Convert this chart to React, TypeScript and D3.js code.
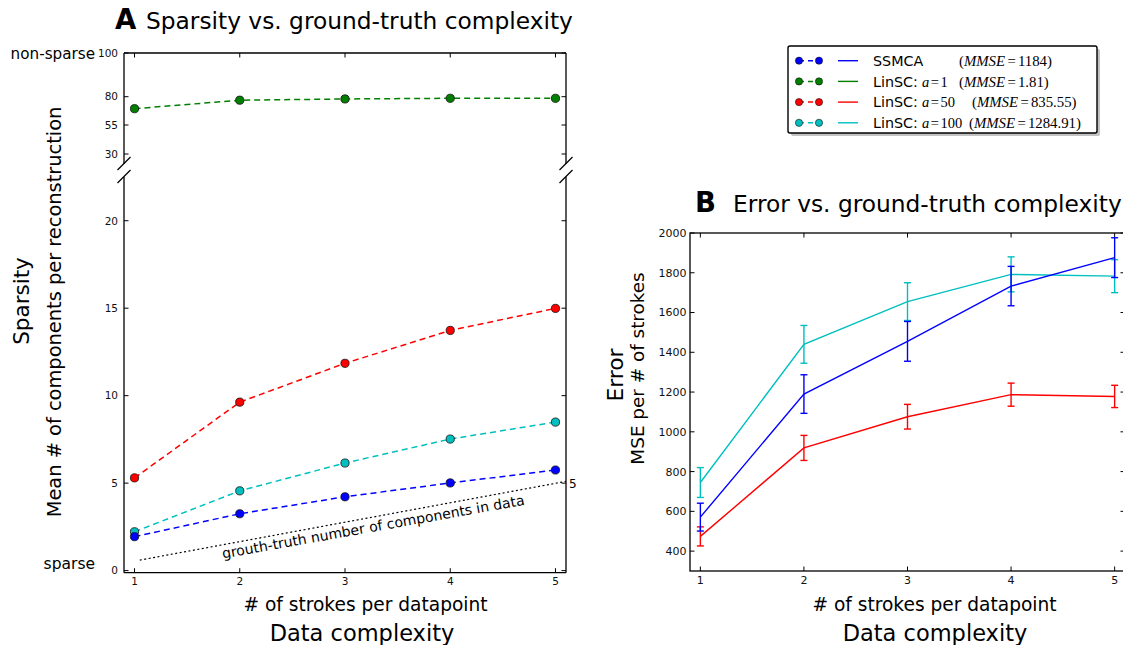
import React from "react";
import * as d3 from "d3";

const FONT = "DejaVu Sans";
const MATH = "Liberation Serif";

const strokes = [1, 2, 3, 4, 5];

// A: mean # of components per reconstruction
const sparseSSMCA = [1.94, 3.25, 4.22, 5.01, 5.75];
const sparseLinSC1 = [69.4, 76.9, 78.0, 78.6, 78.6];
const sparseLinSC50 = [5.3, 9.63, 11.85, 13.73, 14.99];
const sparseLinSC100 = [2.22, 4.56, 6.15, 7.52, 8.49];
const truthX = [1.05, 5.1];
const truthY = [0.6, 5.1];
const topTicks = [30, 55, 80, 100];
const lowTicks = [0, 5, 10, 15, 20];

// B: MSE per # of strokes (mean and error)
const mseSSMCA = [571, 1190, 1455, 1733, 1876];
const errSSMCA = [70, 97, 100, 99, 100];
const mseLinSC50 = [474, 919, 1076, 1187, 1178];
const errLinSC50 = [48, 63, 62, 58, 56];
const mseLinSC100 = [745, 1440, 1655, 1792, 1783];
const errLinSC100 = [75, 95, 95, 88, 83];
const mseTicks = [400, 600, 800, 1000, 1200, 1400, 1600, 1800, 2000];

// legend
const legendNames = ["SSMCA", "LinSC:", "LinSC:", "LinSC:"];
const legendA = ["", "1", "50", "100"];
const legendMMSE = ["1184", "1.81", "835.55", "1284.91"];

const BLUE = "#0000ff";
const GREEN = "#007f00";
const RED = "#ff0000";
const CYAN = "#00bfbf";
const legendColors = [BLUE, GREEN, RED, CYAN];

// layout
const A = { left: 124, right: 566, top: 53, topBottom: 164, lowTop: 177, bottom: 572.7 };
const B = { left: 690, right: 1125, top: 233, bottom: 571 };
const TICK = 4.5;

const xA = d3.scaleLinear().domain([0.9, 5.1]).range([A.left, A.right]);
const yTop = d3.scaleLinear().domain([30, 55, 80, 100]).range([154, 125, 96.7, A.top]);
const yLow = d3.scaleLinear().domain([-0.12, 22.5]).range([A.bottom, A.lowTop]);
const xB = d3.scaleLinear().domain([0.9, 5.1]).range([B.left, B.right]);
const yB = d3.scaleLinear().domain([300, 2000]).range([B.bottom, B.top]);

const DashedSeries = ({ values, y, color }: { values: number[]; y: any; color: string }) => {
  const line = d3.line<number>().x((_, i) => xA(strokes[i])).y((d) => y(d));
  return (
    <g>
      <path d={line(values) || ""} fill="none" stroke={color} strokeWidth={1.5} strokeDasharray="6,4" />
      {values.map((v, i) => (
        <circle key={i} cx={xA(strokes[i])} cy={y(v)} r={4.1} fill={color} stroke="#111" strokeWidth={0.8} />
      ))}
    </g>
  );
};

const ErrSeries = ({ values, errs, color }: { values: number[]; errs: number[]; color: string }) => {
  const line = d3.line<number>().x((_, i) => xB(strokes[i])).y((d) => yB(d));
  return (
    <g stroke={color} strokeWidth={1.4} fill="none">
      <path d={line(values) || ""} />
      {values.map((v, i) => {
        const x = xB(strokes[i]);
        const lo = yB(v - errs[i]);
        const hi = yB(v + errs[i]);
        return (
          <g key={i}>
            <line x1={x} x2={x} y1={lo} y2={hi} />
            <line x1={x - 3.5} x2={x + 3.5} y1={lo} y2={lo} />
            <line x1={x - 3.5} x2={x + 3.5} y1={hi} y2={hi} />
          </g>
        );
      })}
    </g>
  );
};

const BreakMark = ({ x, y }: { x: number; y: number }) => (
  <line x1={x - 6.5} y1={y + 6.5} x2={x + 6.5} y2={y - 6.5} stroke="#000" strokeWidth={1.2} />
);

const PanelA = () => {
  const truthLine = d3.line<number>().x((_, i) => xA(truthX[i])).y((d) => yLow(d));
  return (
    <g fontFamily={FONT}>
      <text x={115} y={29.3} fontSize={27.5} fontWeight="bold">A</text>
      <text x={146} y={29.3} fontSize={23.3}>Sparsity vs. ground-truth complexity</text>

      <g stroke="#000" strokeWidth={1.3}>
        <line x1={A.left} x2={A.left} y1={A.top} y2={A.topBottom} />
        <line x1={A.right} x2={A.right} y1={A.top} y2={A.topBottom} />
        <line x1={A.left} x2={A.right} y1={A.top} y2={A.top} />
        <line x1={A.left} x2={A.left} y1={A.lowTop} y2={A.bottom} />
        <line x1={A.right} x2={A.right} y1={A.lowTop} y2={A.bottom} />
        <line x1={A.left} x2={A.right} y1={A.bottom} y2={A.bottom} />
      </g>
      <g stroke="#000" strokeWidth={1}>
        {topTicks.map((t) => (
          <g key={t}>
            <line x1={A.left} x2={A.left + TICK} y1={yTop(t)} y2={yTop(t)} />
            <line x1={A.right} x2={A.right - TICK} y1={yTop(t)} y2={yTop(t)} />
          </g>
        ))}
        {lowTicks.map((t) => (
          <g key={t}>
            <line x1={A.left} x2={A.left + TICK} y1={yLow(t)} y2={yLow(t)} />
            <line x1={A.right} x2={A.right - TICK} y1={yLow(t)} y2={yLow(t)} />
          </g>
        ))}
        {strokes.map((s) => (
          <g key={s}>
            <line x1={xA(s)} x2={xA(s)} y1={A.top} y2={A.top + TICK} />
            <line x1={xA(s)} x2={xA(s)} y1={A.bottom} y2={A.bottom - TICK} />
          </g>
        ))}
      </g>
      <BreakMark x={A.left} y={A.topBottom - 0.5} />
      <BreakMark x={A.left} y={A.lowTop - 0.5} />
      <BreakMark x={A.right} y={A.topBottom - 0.5} />
      <BreakMark x={A.right} y={A.lowTop - 0.5} />

      <g fontSize={10.5} fill="#111" textAnchor="end">
        {topTicks.map((t) => (
          <text key={t} x={118} y={yTop(t)} dy="0.36em">{t}</text>
        ))}
        {lowTicks.map((t) => (
          <text key={t} x={118} y={yLow(t)} dy="0.36em">{t}</text>
        ))}
      </g>
      <g fontSize={10.5} fill="#111" textAnchor="middle">
        {strokes.map((s) => (
          <text key={s} x={xA(s)} y={584.5}>{s}</text>
        ))}
      </g>

      <text x={95} y={58.5} fontSize={15.2} textAnchor="end">non-sparse</text>
      <text x={95} y={569} fontSize={15.5} textAnchor="end">sparse</text>

      <text transform="translate(29,301) rotate(-90)" fontSize={21.5} textAnchor="middle">Sparsity</text>
      <text transform="translate(61,312) rotate(-90)" fontSize={19.4} textAnchor="middle">
        Mean # of components per reconstruction
      </text>

      <text x={365.5} y={611} fontSize={18.6} textAnchor="middle"># of strokes per datapoint</text>
      <text x={362} y={641} fontSize={22.5} textAnchor="middle">Data complexity</text>

      {/* ground truth */}
      <path d={truthLine(truthY) || ""} fill="none" stroke="#000" strokeWidth={1.2} strokeDasharray="2,2.5" />
      <text x={569} y={488} fontSize={12}>5</text>
      <text transform="translate(223,558.5) rotate(-10.1)" fontSize={14}>
        grouth-truth number of components in data
      </text>

      <DashedSeries values={sparseLinSC1} y={yTop} color={GREEN} />
      <DashedSeries values={sparseLinSC50} y={yLow} color={RED} />
      <DashedSeries values={sparseLinSC100} y={yLow} color={CYAN} />
      <DashedSeries values={sparseSSMCA} y={yLow} color={BLUE} />
    </g>
  );
};

const PanelB = () => (
  <g fontFamily={FONT}>
    <text x={695} y={212} fontSize={27.5} fontWeight="bold">B</text>
    <text x={733} y={212} fontSize={23.3}>Error vs. ground-truth complexity</text>

    <rect x={B.left} y={B.top} width={B.right - B.left} height={B.bottom - B.top} fill="none" stroke="#000" strokeWidth={1.3} />
    <g stroke="#000" strokeWidth={1}>
      {mseTicks.map((t) => (
        <g key={t}>
          <line x1={B.left} x2={B.left + TICK} y1={yB(t)} y2={yB(t)} />
          <line x1={B.right} x2={B.right - TICK} y1={yB(t)} y2={yB(t)} />
        </g>
      ))}
      {strokes.map((s) => (
        <g key={s}>
          <line x1={xB(s)} x2={xB(s)} y1={B.top} y2={B.top + TICK} />
          <line x1={xB(s)} x2={xB(s)} y1={B.bottom} y2={B.bottom - TICK} />
        </g>
      ))}
    </g>
    <g fontSize={11} fill="#111" textAnchor="end">
      {mseTicks.map((t) => (
        <text key={t} x={686.5} y={yB(t)} dy="0.36em">{t}</text>
      ))}
    </g>
    <g fontSize={11} fill="#111" textAnchor="middle">
      {strokes.map((s) => (
        <text key={s} x={xB(s)} y={584}>{s}</text>
      ))}
    </g>

    <text transform="translate(623,375) rotate(-90)" fontSize={21.8} textAnchor="middle">Error</text>
    <text transform="translate(644,368.5) rotate(-90)" fontSize={18.4} textAnchor="middle">MSE per # of strokes</text>

    <text x={934.5} y={611} fontSize={18.6} textAnchor="middle"># of strokes per datapoint</text>
    <text x={935} y={641} fontSize={22.5} textAnchor="middle">Data complexity</text>

    <ErrSeries values={mseLinSC100} errs={errLinSC100} color={CYAN} />
    <ErrSeries values={mseLinSC50} errs={errLinSC50} color={RED} />
    <ErrSeries values={mseSSMCA} errs={errSSMCA} color={BLUE} />
  </g>
);

const Legend = () => {
  const rowY = (i: number) => 60.7 + i * 20.7;
  const mmseX = [959, 959, 972, 969];
  return (
    <g>
      <rect x={791} y={49} width={309} height={87} fill="#9a9a9a" opacity={0.6} rx={2} />
      <rect x={788} y={46} width={309} height={87} fill="#fff" stroke="#000" strokeWidth={1.4} rx={2} />
      {legendNames.map((name, i) => {
        const y = rowY(i);
        const c = legendColors[i];
        return (
          <g key={i}>
            <line x1={799} x2={819} y1={y} y2={y} stroke={c} strokeWidth={1.5} strokeDasharray="5,4" />
            <circle cx={799} cy={y} r={3.6} fill={c} stroke="#111" strokeWidth={0.6} />
            <circle cx={819} cy={y} r={3.6} fill={c} stroke="#111" strokeWidth={0.6} />
            <line x1={838} x2={858} y1={y} y2={y} stroke={c} strokeWidth={1.4} />
            <text x={873} y={y} dy="0.36em" fontFamily={FONT} fontSize={14.3}>{name}</text>
            {legendA[i] && (
              <text x={922} y={y} dy="0.36em" fontFamily={MATH} fontSize={14.5}>
                <tspan fontStyle="italic">a</tspan>
                <tspan dx={1.5}>=</tspan>
                <tspan dx={1.5}>{legendA[i]}</tspan>
              </text>
            )}
            <text x={mmseX[i]} y={y} dy="0.36em" fontFamily={MATH} fontSize={14.8}>
              (<tspan fontStyle="italic">MMSE</tspan>
              <tspan dx={2.5}>=</tspan>
              <tspan dx={2}>{legendMMSE[i]}</tspan>)
            </text>
          </g>
        );
      })}
    </g>
  );
};

export default function App() {
  return (
    <svg
      width={1123}
      height={645}
      style={{ position: "absolute", left: 0, top: 0, background: "#fff" }}
    >
      <rect width={1123} height={645} fill="#fff" />
      <PanelA />
      <PanelB />
      <Legend />
    </svg>
  );
}
